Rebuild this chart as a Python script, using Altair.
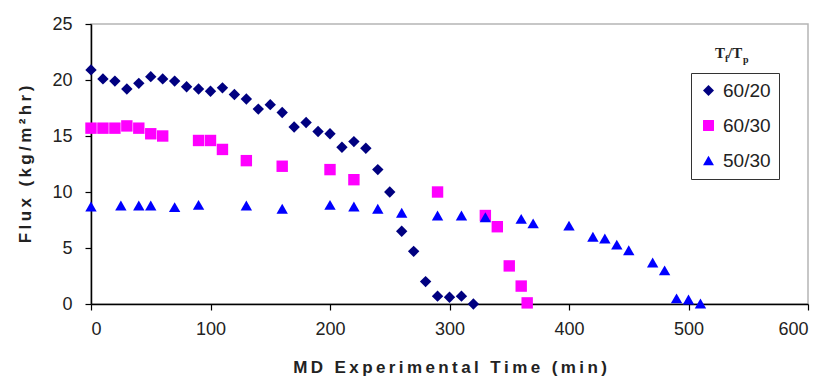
import altair as alt
import pandas as pd

# ---- data ----
series_names = ["60/20", "60/30", "50/30"]

t_6020 = [0, 10, 20, 30, 40, 50, 60, 70, 80, 90, 100, 110, 120, 130, 140, 150, 160,
          170, 180, 190, 200, 210, 220, 230, 240, 250, 260, 270, 280, 290, 300, 310, 320]
flux_6020 = [20.9, 20.1, 19.9, 19.2, 19.7, 20.3, 20.1, 19.9, 19.4, 19.2, 19.0, 19.3,
             18.7, 18.3, 17.4, 17.8, 17.1, 15.8, 16.2, 15.4, 15.2, 14.0, 14.5, 13.9,
             12.0, 10.0, 6.5, 4.7, 2.0, 0.7, 0.6, 0.7, 0.0]

t_6030 = [0, 10, 20, 30, 40, 50, 60, 90, 100, 110, 130, 160, 200, 220, 290, 330, 340,
          350, 360, 365]
flux_6030 = [15.7, 15.7, 15.7, 15.9, 15.7, 15.2, 15.0, 14.6, 14.6, 13.8, 12.8, 12.3,
             12.0, 11.1, 10.0, 7.9, 6.9, 3.4, 1.6, 0.1]

t_5030 = [0, 25, 40, 50, 70, 90, 130, 160, 200, 220, 240, 260, 290, 310, 330, 360, 370,
          400, 420, 430, 440, 450, 470, 480, 490, 500, 510]
flux_5030 = [8.7, 8.8, 8.8, 8.8, 8.65, 8.85, 8.8, 8.5, 8.85, 8.7, 8.5, 8.15, 7.9, 7.9,
             7.75, 7.6, 7.2, 7.0, 6.0, 5.85, 5.3, 4.8, 3.7, 3.0, 0.5, 0.4, 0.05]

x_ticks = [0, 100, 200, 300, 400, 500, 600]
y_ticks = [0, 5, 10, 15, 20, 25]

x_title = "MD Experimental Time (min)"
y_title = "Flux (kg/m²hr)"

def spaced(s):
    # widen letter spacing with thin spaces
    return "\u2009".join(s)

rows = []
for name, ts, fs in zip(series_names, [t_6020, t_6030, t_5030], [flux_6020, flux_6030, flux_5030]):
    for t, f in zip(ts, fs):
        rows.append({"time": t, "flux": f, "series": name})
df = pd.DataFrame(rows)

FONT = "Liberation Sans"

points = alt.Chart(df).mark_point(filled=True, opacity=1, size=130).encode(
    x=alt.X("time:Q",
            scale=alt.Scale(domain=[0, 600], nice=False),
            axis=alt.Axis(values=x_ticks, title=spaced(x_title),
                          grid=False, domainColor="black", domainWidth=1.5,
                          tickColor="black", tickSize=6, tickWidth=1.2,
                          labelFont=FONT, labelFontSize=18, labelColor="#222",
                          labelPadding=10,
                          titleFont=FONT, titleFontSize=17, titleFontWeight="bold",
                          titleColor="#222", titlePadding=21)),
    y=alt.Y("flux:Q",
            scale=alt.Scale(domain=[0, 25], nice=False),
            axis=alt.Axis(values=y_ticks, title=spaced(y_title),
                          grid=False, domainColor="black", domainWidth=1.5,
                          tickColor="black", tickSize=6, tickWidth=1.2,
                          labelFont=FONT, labelFontSize=18, labelColor="#222",
                          labelPadding=13,
                          titleFont=FONT, titleFontSize=17, titleFontWeight="bold",
                          titleColor="#222", titlePadding=17)),
    color=alt.Color("series:N",
                    scale=alt.Scale(domain=series_names,
                                    range=["#000080", "#FF00FF", "#0000FF"]),
                    legend=alt.Legend(title=None, orient="none", legendX=600, legendY=49,
                                      strokeColor="#333", padding=8, rowPadding=15,
                                      labelFont=FONT, labelFontSize=19, labelColor="#222",
                                      labelOffset=5, symbolSize=120, symbolStrokeWidth=0)),
    shape=alt.Shape("series:N",
                    scale=alt.Scale(domain=series_names,
                                    range=["diamond", "square", "triangle-up"]),
                    legend=None),
)

SERIF = "Liberation Serif"
def piece(txt, x, y, size):
    return alt.Chart(pd.DataFrame({"s": [txt]})).mark_text(
        font=SERIF, fontWeight="bold", fontSize=size, align="left",
        baseline="alphabetic", color="#222"
    ).encode(x=alt.value(x), y=alt.value(y), text="s:N")

title_layers = [
    piece("T", 624, 34, 15),
    piece("f", 634, 38, 10),
    piece("/T", 637, 34, 15),
    piece("p", 652, 39, 10),
]

chart = alt.layer(points, *title_layers).properties(
    width=717, height=280,
    autosize=alt.AutoSizeParams(type="none"),
    padding={"left": 91, "top": 24, "right": 17, "bottom": 79},
).configure_view(stroke="#b5b5b5", strokeWidth=1.5)

chart.save("out.html", embed_options={"renderer": "svg", "actions": False})
